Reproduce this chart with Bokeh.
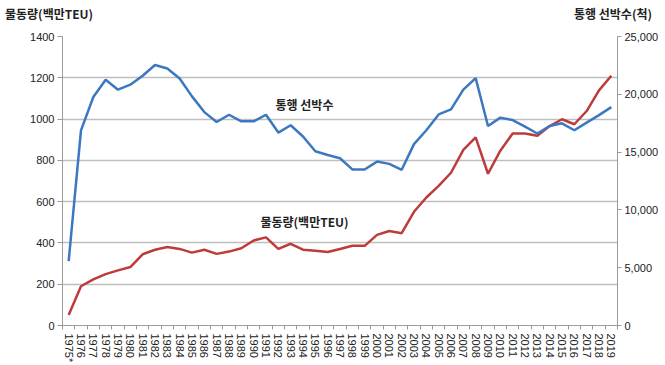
import math
from bokeh.plotting import figure
from bokeh.layouts import column
from bokeh.models import (Range1d, LinearAxis, FixedTicker, Label, NumeralTickFormatter, Div)
from bokeh.embed import file_html
from bokeh.resources import INLINE

years = ["1975*"] + [str(y) for y in range(1976, 2020)]

# 물동량 (백만TEU) - left axis
volume = [51, 190, 223, 249, 267, 283, 345, 367, 380, 371, 353, 367, 347, 358, 374,
          412, 427, 371, 396, 367, 362, 356, 371, 386, 386, 439, 458, 447, 551, 620,
          676, 740, 851, 911, 735, 847, 930, 930, 919, 966, 999, 975, 1039, 1139, 1210]

# 통행 선박수 (척) - right axis
ships = [5570, 16880, 19770, 21250, 20400, 20830, 21600, 22540, 22230, 21370, 19820,
         18460, 17600, 18230, 17660, 17660, 18230, 16690, 17320, 16350, 15070, 14750,
         14470, 13500, 13500, 14180, 13980, 13470, 15690, 16890, 18260, 18690, 20400,
         21400, 17260, 17980, 17770, 17200, 16610, 17260, 17490, 16890, 17550, 18200, 18890]

left_ticks = [0, 200, 400, 600, 800, 1000, 1200, 1400]
right_ticks = [0, 5000, 10000, 15000, 20000, 25000]

left_title = "물동량(백만TEU)"
right_title = "통행 선박수(척)"

xs = list(range(len(years)))

p = figure(width=665, height=343, output_backend="svg", toolbar_location=None,
           x_range=Range1d(-0.5, len(years) - 0.5), y_range=Range1d(0, 1400),
           min_border_left=62, min_border_right=48, min_border_top=14, min_border_bottom=37,
           margin=(0, 0, 0, 0))
p.outline_line_color = None
p.background_fill_color = "white"
p.border_fill_color = "white"

p.extra_y_ranges = {"ships": Range1d(0, 25000)}

TICK_FONT = "Liberation Sans"

# x axis
xa = p.xaxis[0]
xa.ticker = FixedTicker(ticks=xs, minor_ticks=[i - 0.5 for i in range(len(years) + 1)])
xa.major_label_overrides = {i: y for i, y in enumerate(years)}
xa.major_label_orientation = -math.pi / 2
xa.major_tick_line_color = None
xa.minor_tick_line_color = "#9A9A9A"
xa.minor_tick_out = 4
xa.minor_tick_in = 0
xa.axis_line_color = "#9A9A9A"
xa.major_label_text_font = TICK_FONT
xa.major_label_text_font_size = "11px"
xa.major_label_text_color = "#222222"
xa.major_label_standoff = 2

# left axis
ya = p.yaxis[0]
ya.ticker = FixedTicker(ticks=left_ticks)
ya.minor_tick_line_color = None
ya.major_tick_line_color = "#9A9A9A"
ya.major_tick_out = 5
ya.major_tick_in = 0
ya.axis_line_color = "#9A9A9A"
ya.major_label_text_font = TICK_FONT
ya.major_label_text_font_size = "11px"
ya.major_label_text_color = "#222222"
ya.major_label_standoff = 3

# right axis
ra = LinearAxis(y_range_name="ships", ticker=FixedTicker(ticks=right_ticks),
                formatter=NumeralTickFormatter(format="0,0"))
ra.minor_tick_line_color = None
ra.major_tick_line_color = "#9A9A9A"
ra.major_tick_out = 4
ra.major_tick_in = 0
ra.axis_line_color = "#9A9A9A"
ra.major_label_text_font = TICK_FONT
ra.major_label_text_font_size = "11px"
ra.major_label_text_color = "#222222"
ra.major_label_standoff = 3
p.add_layout(ra, "right")

p.xgrid.grid_line_color = None
p.ygrid.ticker = FixedTicker(ticks=left_ticks[1:-1])
p.ygrid.grid_line_color = "#BFBFBF"
p.ygrid.grid_line_width = 1.5

p.line(xs, volume, line_color="#BE3B3B", line_width=2.5)
p.line(xs, ships, line_color="#3C78C0", line_width=2.5, y_range_name="ships")

KFONT = "Noto Sans CJK KR"
p.add_layout(Label(x=16.77, y=1069, text="통행 선박수",
                   text_font=KFONT, text_font_size="12px", text_font_style="bold",
                   text_color="#222222", text_baseline="middle", text_align="left"))
p.add_layout(Label(x=15.55, y=503, text="물동량(백만TEU)",
                   text_font=KFONT, text_font_size="12px", text_font_style="bold",
                   text_color="#222222", text_baseline="middle", text_align="left"))

span_style = "position:absolute;top:5px;line-height:18px;white-space:nowrap;"
header = Div(
    text=(f'<div style="position:relative;width:665px;height:22px;'
          f"font-family:'Noto Sans CJK KR';font-weight:bold;font-size:12px;color:#222222;\">"
          f'<span style="{span_style}left:5px;">{left_title}</span>'
          f'<span style="{span_style}right:13px;">{right_title}</span></div>'),
    width=665, height=22, margin=(0, 0, 0, 0))

layout = column(header, p, spacing=0, margin=(0, 0, 0, 0))

open("out.html", "w").write(file_html(layout, INLINE))
